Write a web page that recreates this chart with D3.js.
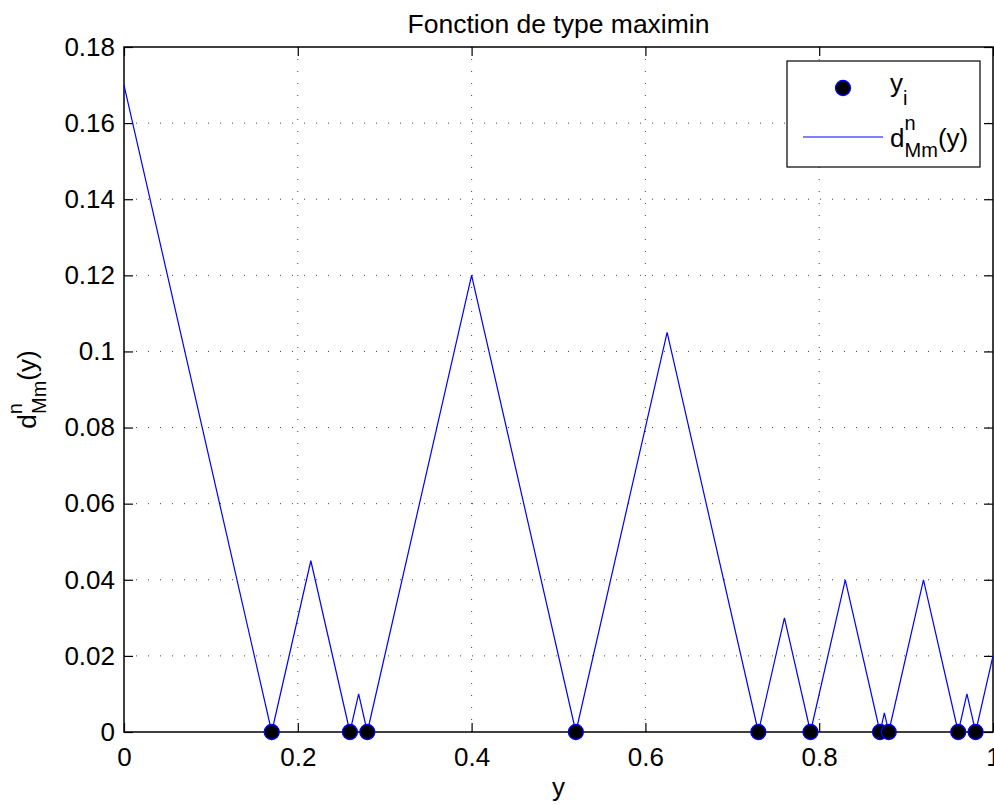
<!DOCTYPE html>
<html>
<head>
<meta charset="utf-8">
<script src="https://cdn.jsdelivr.net/npm/d3@7"></script>
<style>
  body { margin: 0; background: #fff; }
  text { font-family: "Liberation Sans", Arial, sans-serif; fill: #000; }
</style>
</head>
<body>
<script>
// sample points y_i
var pointsX = [0.17, 0.26, 0.28, 0.52, 0.73, 0.79, 0.87, 0.88, 0.96, 0.98];
// vertices of d_Mm^n(y)
var curveX = [0, 0.17, 0.215, 0.26, 0.27, 0.28, 0.40, 0.52, 0.625, 0.73, 0.76, 0.79, 0.83, 0.87, 0.875, 0.88, 0.92, 0.96, 0.97, 0.98, 1.0];
var curveY = [0.17, 0, 0.045, 0, 0.01, 0, 0.12, 0, 0.105, 0, 0.03, 0, 0.04, 0, 0.005, 0, 0.04, 0, 0.01, 0, 0.02];
var xTicks = [0, 0.2, 0.4, 0.6, 0.8, 1];
var yTicks = [0, 0.02, 0.04, 0.06, 0.08, 0.1, 0.12, 0.14, 0.16, 0.18];

var margin = {top: 47, right: 1, bottom: 73, left: 124},
    width = 994 - margin.left - margin.right,
    height = 805 - margin.top - margin.bottom;

var svg = d3.select("body").append("svg")
    .attr("width", 994)
    .attr("height", 805);

var g = svg.append("g")
    .attr("transform", "translate(" + margin.left + "," + margin.top + ")");

var x = d3.scaleLinear().domain([0, 1]).range([0, width]);
var y = d3.scaleLinear().domain([0, 0.18]).range([height, 0]);

var fmt = function (d) { return String(+d.toFixed(2)); };

// grid
g.append("g").selectAll("line.gx")
    .data(xTicks.slice(1, -1))
    .enter().append("line")
    .attr("x1", function (d) { return x(d); })
    .attr("x2", function (d) { return x(d); })
    .attr("y1", 0).attr("y2", height)
    .attr("stroke", "#444").attr("stroke-width", 1)
    .attr("stroke-dasharray", "1,11");
g.append("g").selectAll("line.gy")
    .data(yTicks.slice(1, -1))
    .enter().append("line")
    .attr("y1", function (d) { return y(d); })
    .attr("y2", function (d) { return y(d); })
    .attr("x1", 0).attr("x2", width)
    .attr("stroke", "#444").attr("stroke-width", 1)
    .attr("stroke-dasharray", "1,11");

// axes (ticks inside, on all four sides)
function styleAxis(sel) {
    sel.select(".domain").remove();
    sel.selectAll("line").attr("stroke", "#000").attr("stroke-width", 1.2);
    sel.selectAll("text").style("font-size", "26px").attr("fill", "#000")
        .style("font-family", "'Liberation Sans', Arial, sans-serif");
}
g.append("g")
    .attr("transform", "translate(0," + height + ")")
    .call(d3.axisBottom(x).tickValues(xTicks).tickFormat(fmt).tickSize(-9).tickPadding(16))
    .call(styleAxis);
g.append("g")
    .call(d3.axisTop(x).tickValues(xTicks).tickFormat("").tickSize(-9))
    .call(styleAxis);
g.append("g")
    .call(d3.axisLeft(y).tickValues(yTicks).tickFormat(fmt).tickSize(-9).tickPadding(9))
    .call(styleAxis);
g.append("g")
    .attr("transform", "translate(" + width + ",0)")
    .call(d3.axisRight(y).tickValues(yTicks).tickFormat("").tickSize(-9))
    .call(styleAxis);

g.append("rect")
    .attr("width", width).attr("height", height)
    .attr("fill", "none").attr("stroke", "#000").attr("stroke-width", 1.5);

// curve
var line = d3.line()
    .x(function (d, i) { return x(curveX[i]); })
    .y(function (d, i) { return y(curveY[i]); });
g.append("path")
    .datum(curveX)
    .attr("d", line)
    .attr("fill", "none")
    .attr("stroke", "#0000ff")
    .attr("stroke-width", 1.2);

// points
g.append("g").selectAll("circle")
    .data(pointsX)
    .enter().append("circle")
    .attr("cx", function (d) { return x(d); })
    .attr("cy", y(0))
    .attr("r", 7.5)
    .attr("fill", "#000")
    .attr("stroke", "#0000ff")
    .attr("stroke-width", 1.3);

// title & labels
svg.append("text")
    .attr("x", margin.left + width / 2).attr("y", 33)
    .attr("text-anchor", "middle")
    .style("font-size", "26.5px")
    .text("Fonction de type maximin");

svg.append("text")
    .attr("x", margin.left + width / 2).attr("y", 796)
    .attr("text-anchor", "middle")
    .style("font-size", "26px")
    .text("y");

// d^n_Mm(y) with stacked super/subscript
function dLabel(t, up) {
    t.append("tspan").text("d");
    t.append("tspan").attr("dy", -up).style("font-size", "20px").text("n");
    t.append("tspan").attr("dx", -11).attr("dy", up + 10).style("font-size", "20px").text("Mm");
    t.append("tspan").attr("dy", -10).text("(y)");
}

var yl = svg.append("text")
    .attr("transform", "translate(36," + (margin.top + height / 2) + ") rotate(-90)")
    .attr("text-anchor", "middle")
    .style("font-size", "26px");
dLabel(yl, 14);

// legend
var lg = svg.append("g");
lg.append("rect")
    .attr("x", 787).attr("y", 61).attr("width", 193).attr("height", 106)
    .attr("fill", "#fff").attr("stroke", "#000").attr("stroke-width", 1.2);
lg.append("circle")
    .attr("cx", 843).attr("cy", 88).attr("r", 7.5)
    .attr("fill", "#000").attr("stroke", "#0000ff").attr("stroke-width", 1.3);
lg.append("line")
    .attr("x1", 803).attr("x2", 883).attr("y1", 137).attr("y2", 137)
    .attr("stroke", "#0000ff").attr("stroke-width", 1.2);
var t1 = lg.append("text").attr("x", 890).attr("y", 92).style("font-size", "26px");
t1.append("tspan").text("y");
t1.append("tspan").attr("dy", 13).style("font-size", "20px").text("i");
var t2 = lg.append("text").attr("x", 890).attr("y", 147).style("font-size", "26px");
dLabel(t2, 17);
</script>
</body>
</html>
